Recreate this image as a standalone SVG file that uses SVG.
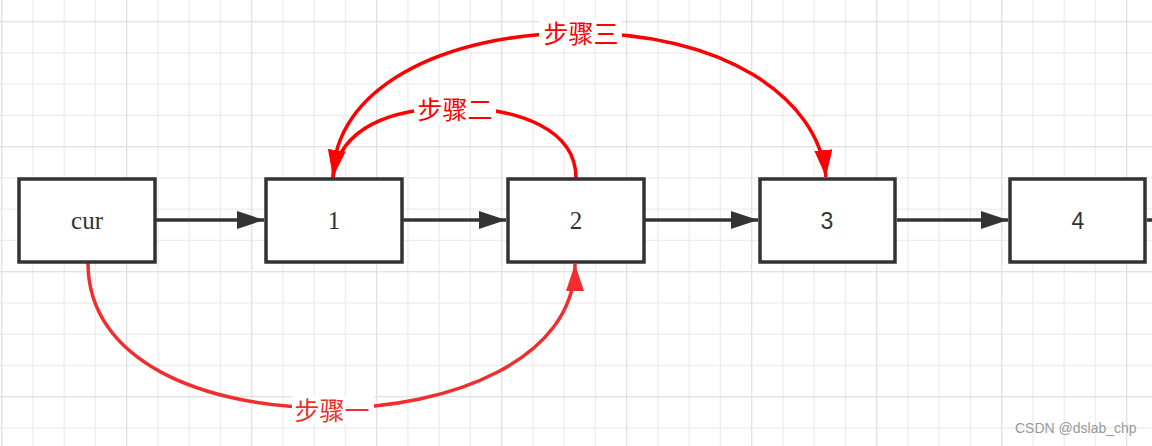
<svg xmlns="http://www.w3.org/2000/svg" width="1152" height="446" viewBox="0 0 1152 446">
<style>
.box{fill:#fff;stroke:#333;stroke-width:3.5}
.lnk{fill:none;stroke:#333;stroke-width:3.5}
.red{fill:none;stroke:#ff0000;stroke-width:3.5}
.red1{fill:none;stroke:#f02e2e;stroke-width:3.5}
.ser{font-family:"Liberation Serif","Times New Roman",serif;font-size:25px;fill:#333;text-anchor:middle}
.san{font-family:"Liberation Sans",Arial,sans-serif;font-size:23px;fill:#333;text-anchor:middle}
.lbl{font-family:"Noto Sans CJK SC","Noto Sans CJK JP",sans-serif;font-size:25px;fill:#ff0000;text-anchor:middle}
.lbl1{fill:#f02e2e}
.bg{fill:#fff}
.wm{font-family:"Liberation Sans",Arial,sans-serif;font-size:14px;fill:#999}
</style>
<defs>
<pattern id="grid" patternUnits="userSpaceOnUse" x="-13.925" y="6.075" width="125" height="125">
<path d="M46.875,0V125M78.125,0V125M109.375,0V125M0,46.875H125M0,78.125H125M0,109.375H125" stroke="#ececec" stroke-width="1.3" fill="none"/>
<path d="M15.625,0V125M0,15.625H125" stroke="#e0e0e0" stroke-width="1.3" fill="none"/>
</pattern>
<marker id="ad" markerUnits="userSpaceOnUse" markerWidth="30" markerHeight="20" refX="27" refY="9" orient="auto">
<path d="M0,0L27,9L0,18Z" fill="#333"/>
</marker>
<marker id="ar" markerUnits="userSpaceOnUse" markerWidth="30" markerHeight="20" refX="27" refY="9" orient="auto">
<path d="M0,0L27,9L0,18Z" fill="#ff0000"/>
</marker>
<marker id="ar1" markerUnits="userSpaceOnUse" markerWidth="30" markerHeight="20" refX="27" refY="9" orient="auto">
<path d="M0,0L27,9L0,18Z" fill="#f02e2e"/>
</marker>
</defs>
<rect width="1152" height="446" fill="#fff"/>
<rect width="1152" height="446" fill="url(#grid)"/>

<g id="connectors">
<path class="lnk" d="M156,220H264" marker-end="url(#ad)"/>
<path class="lnk" d="M403,220H506" marker-end="url(#ad)"/>
<path class="lnk" d="M645,220H758" marker-end="url(#ad)"/>
<path class="lnk" d="M897,220H1008" marker-end="url(#ad)"/>
<path class="lnk" d="M1147,220H1152"/>
<path class="red1" d="M88,263C88,360 200,408 332,408C450,408 575,360 575,264" marker-end="url(#ar1)"/>
<path class="red" d="M576,178C576,130 520,108 455,108C390,108 340,128 333,177" marker-end="url(#ar)"/>
<path class="red" d="M333,178C333,90 440,33 580,33C720,33 818,95 826,177" marker-end="url(#ar)"/>
</g>

<g id="label1">
<rect class="bg" x="292" y="396" width="82" height="28"/>
<text class="lbl lbl1" x="332" y="420">步骤一</text>
</g>
<g id="label2">
<rect class="bg" x="414" y="96" width="82" height="28"/>
<text class="lbl" x="455" y="119">步骤二</text>
</g>
<g id="label3">
<rect class="bg" x="539" y="19" width="83" height="28"/>
<text class="lbl" x="581" y="43">步骤三</text>
</g>

<g id="node-cur">
<rect class="box" x="19" y="179" width="136" height="83"/>
<text class="ser" x="87" y="229">cur</text>
</g>
<g id="node-1">
<rect class="box" x="266" y="179" width="136" height="83"/>
<text class="ser" x="334" y="229">1</text>
</g>
<g id="node-2">
<rect class="box" x="508" y="179" width="136" height="83"/>
<text class="ser" x="576" y="229">2</text>
</g>
<g id="node-3">
<rect class="box" x="760" y="179" width="135" height="83"/>
<text class="san" x="827" y="229">3</text>
</g>
<g id="node-4">
<rect class="box" x="1010" y="179" width="135" height="83"/>
<text class="san" x="1078" y="229">4</text>
</g>

<text class="wm" x="1015" y="433">CSDN @dslab_chp</text>
</svg>
